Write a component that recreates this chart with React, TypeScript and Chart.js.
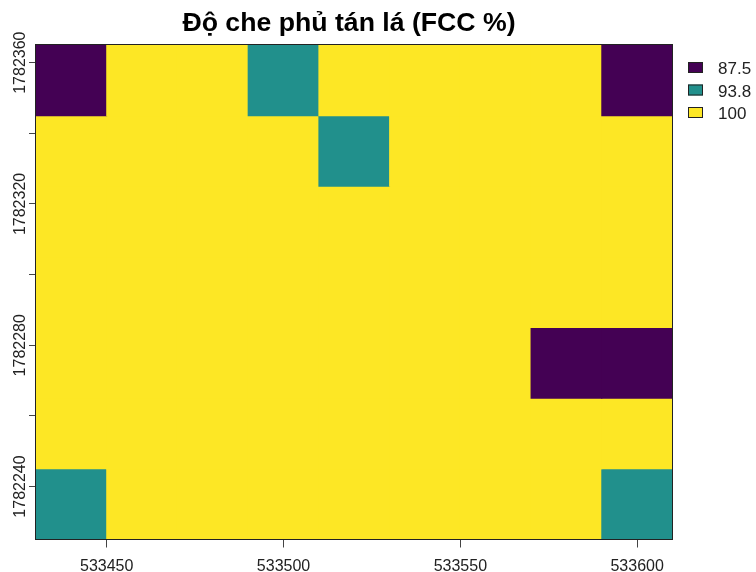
import { useEffect, useRef } from "react";
import { Chart, registerables } from "chart.js";

Chart.register(...registerables);

const TITLE = "Độ che phủ tán lá (FCC %)";

// cell centres (20 m raster)
const xCenters = [533440, 533460, 533480, 533500, 533520, 533540, 533560, 533580, 533600];
const yCenters = [1782355, 1782335, 1782315, 1782295, 1782275, 1782255, 1782235];
const cellSize = 20;

// FCC values, one array per raster row (top to bottom)
const row1 = [87.5, 100, 100, 93.8, 100, 100, 100, 100, 87.5];
const row2 = [100, 100, 100, 100, 93.8, 100, 100, 100, 100];
const row3 = [100, 100, 100, 100, 100, 100, 100, 100, 100];
const row4 = [100, 100, 100, 100, 100, 100, 100, 100, 100];
const row5 = [100, 100, 100, 100, 100, 100, 100, 87.5, 87.5];
const row6 = [100, 100, 100, 100, 100, 100, 100, 100, 100];
const row7 = [93.8, 100, 100, 100, 100, 100, 100, 100, 93.8];
const rows = [row1, row2, row3, row4, row5, row6, row7];

const legendValues = [87.5, 93.8, 100];
const legendLabels = ["87.5", "93.8", "100"];
const legendColors = ["#440154", "#21908C", "#FDE725"];

const xTicks = [533450, 533500, 533550, 533600];
const yTicks = [1782240, 1782260, 1782280, 1782300, 1782320, 1782340, 1782360];
const yTickLabels = [1782240, 1782280, 1782320, 1782360];

const xMin = 533430;
const xMax = 533610;
const yMin = 1782225;
const yMax = 1782365;

const FONT = '"Liberation Sans", Arial, sans-serif';

function colorFor(v: number): string {
  const i = legendValues.indexOf(v);
  return legendColors[i >= 0 ? i : legendColors.length - 1];
}

const decorations = {
  id: "decorations",
  afterDraw(chart: any) {
    const { ctx, chartArea: a, scales } = chart;
    ctx.save();
    // plot box
    const x0 = Math.round(a.left) - 0.5;
    const x1 = Math.floor(a.right) + 0.5;
    const y0 = Math.round(a.top) - 0.5;
    const y1 = Math.floor(a.bottom) + 0.5;
    ctx.strokeStyle = "#222";
    ctx.lineWidth = 1;
    ctx.strokeRect(x0, y0, x1 - x0, y1 - y0);

    // title
    ctx.fillStyle = "#000";
    ctx.font = `bold 26.67px ${FONT}`;
    ctx.textAlign = "center";
    ctx.textBaseline = "alphabetic";
    ctx.fillText(TITLE, 349, 30.5);

    // x tick labels
    ctx.fillStyle = "#222";
    ctx.font = `16px ${FONT}`;
    ctx.textAlign = "center";
    for (const v of xTicks) {
      const px = scales.x.getPixelForValue(v);
      ctx.fillText(String(v), px, 571);
    }

    // y tick labels (rotated)
    for (const v of yTickLabels) {
      const py = scales.y.getPixelForValue(v);
      ctx.save();
      ctx.translate(25, py);
      ctx.rotate(-Math.PI / 2);
      ctx.textAlign = "center";
      ctx.fillText(String(v), 0, 0);
      ctx.restore();
    }

    // legend
    ctx.font = `17px ${FONT}`;
    ctx.textAlign = "left";
    legendLabels.forEach((lab, i) => {
      const top = 62 + i * 22.5;
      ctx.fillStyle = legendColors[i];
      ctx.fillRect(688, top, 15, 11);
      ctx.strokeStyle = "#222";
      ctx.lineWidth = 1;
      ctx.strokeRect(688.5, top + 0.5, 14, 10);
      ctx.fillStyle = "#222";
      ctx.fillText(lab, 718, top + 12);
    });
    ctx.restore();
  },
};

export default function App() {
  const canvasRef = useRef<HTMLCanvasElement | null>(null);

  useEffect(() => {
    if (!canvasRef.current) return;
    const datasets = rows.map((row, r) => ({
      label: `row ${r + 1}`,
      data: xCenters.map((x) => ({
        x,
        y: [yCenters[r] - cellSize / 2, yCenters[r] + cellSize / 2],
      })),
      backgroundColor: row.map(colorFor),
      borderWidth: 0,
      grouped: false,
      barPercentage: 1,
      categoryPercentage: 1,
      inflateAmount: 0.5,
    }));

    const chart = new Chart(canvasRef.current, {
      type: "bar",
      data: { datasets: datasets as any },
      options: {
        animation: false,
        responsive: true,
        maintainAspectRatio: false,
        events: [],
        layout: { padding: { left: 0, top: 45, right: 83.5, bottom: 0 } },
        plugins: {
          legend: { display: false },
          title: { display: false },
          tooltip: { enabled: false },
        },
        scales: {
          x: {
            type: "linear",
            min: xMin,
            max: xMax,
            bounds: "data",
            offset: false,
            grid: {
              offset: false,
              drawOnChartArea: false,
              drawTicks: true,
              tickLength: 8,
              color: "#444",
            },
            border: { display: false },
            ticks: { display: false },
            afterBuildTicks: (s: any) => {
              s.ticks = xTicks.map((value) => ({ value }));
            },
            afterFit: (s: any) => {
              s.height = 32.5;
            },
          },
          y: {
            type: "linear",
            min: yMin,
            max: yMax,
            bounds: "data",
            beginAtZero: false,
            grid: {
              drawOnChartArea: false,
              drawTicks: true,
              tickLength: 7,
              color: "#444",
            },
            border: { display: false },
            ticks: { display: false },
            afterBuildTicks: (s: any) => {
              s.ticks = yTicks.map((value) => ({ value }));
            },
            afterFit: (s: any) => {
              s.width = 36;
            },
          },
        } as any,
      },
      plugins: [decorations],
    });
    return () => chart.destroy();
  }, []);

  return (
    <div
      style={{
        position: "fixed",
        left: 0,
        top: 0,
        width: 756,
        height: 572,
        background: "#fff",
      }}
    >
      <canvas ref={canvasRef} />
    </div>
  );
}
